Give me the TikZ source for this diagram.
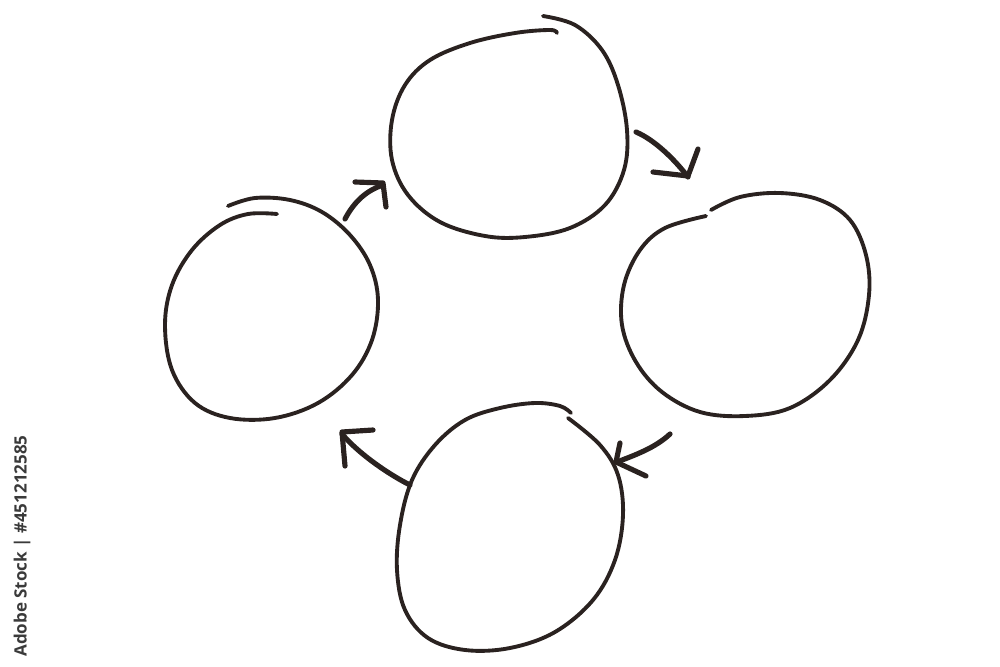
\documentclass[tikz,border=0pt]{standalone}
\usepackage{fontspec}
\newfontfamily\wmfont{Open Sans}
\definecolor{ink}{HTML}{2A2220}
\definecolor{wm}{HTML}{3A3A3A}
\tikzset{
  ring/.style={draw=ink, line width=3.3pt, line cap=round, line join=round},
  shaft/.style={draw=ink, line width=4.4pt, line cap=round, line join=round},
}
\begin{document}
\begin{tikzpicture}[x=0.03cm,y=-0.03cm]
\useasboundingbox (0,0) rectangle (1000,667);
% top circle
\draw[ring] plot[smooth,tension=0.6] coordinates {(543,16) (575,25) (602,50) (618,85) (627,130) (624,170) (605,205) (570,228) (525,237) (485,236) (440,222) (408,195) (392,160) (392,120) (405,85) (430,60) (470,43) (515,33) (550,30) (557,33)};
% left circle
\draw[ring] plot[smooth,tension=0.6] coordinates {(228,206) (255,198) (290,200) (322,212) (350,235) (370,265) (378,300) (372,340) (352,375) (318,403) (275,418) (230,418) (195,403) (172,370) (165,325) (172,285) (192,250) (220,225) (248,214) (277,214)};
% right circle
\draw[ring] plot[smooth,tension=0.6] coordinates {(711,210) (740,197) (780,193) (820,200) (850,220) (866,255) (869,295) (858,340) (830,380) (790,408) (745,416) (700,412) (662,392) (636,362) (622,325) (624,285) (640,250) (665,228) (706,216)};
% bottom circle
\draw[ring] plot[smooth,tension=0.6] coordinates {(571,413) (560,406) (535,403) (500,408) (465,420) (435,445) (412,480) (400,525) (397,570) (405,610) (428,638) (465,650) (510,648) (555,632) (593,600) (615,560) (623,515) (618,475) (600,445) (568,418)};
% arrows
\coordinate (a1s) at (345,219); \coordinate (a1t) at (383,185);
\draw[shaft] (a1s) .. controls (355,200) and (368,190) .. (a1t);
\draw[shaft] (355,182) -- (383,183) -- (386,207);
\coordinate (a2s) at (636,132); \coordinate (a2t) at (688,177);
\draw[shaft] (a2s) .. controls (655,140) and (675,160) .. (a2t);
\draw[shaft] (653,172) -- (688,176) -- (698,149);
\coordinate (a3s) at (670,434); \coordinate (a3t) at (617,462);
\draw[shaft] (a3s) .. controls (655,448) and (635,455) .. (a3t);
\draw[shaft] (620,443) -- (616,462) -- (646,476);
\coordinate (a4s) at (410,485); \coordinate (a4t) at (342,434);
\draw[shaft] (a4s) .. controls (390,475) and (360,455) .. (a4t);
\draw[shaft] (373,430) -- (342,432) -- (345,466);
% watermark
\node[rotate=90, text=wm, font=\wmfont\bfseries\fontsize{14.5}{17}\selectfont, inner sep=0pt] (wmk) at (22,546) {Adobe Stock | \#451212585};
\end{tikzpicture}
\end{document}
